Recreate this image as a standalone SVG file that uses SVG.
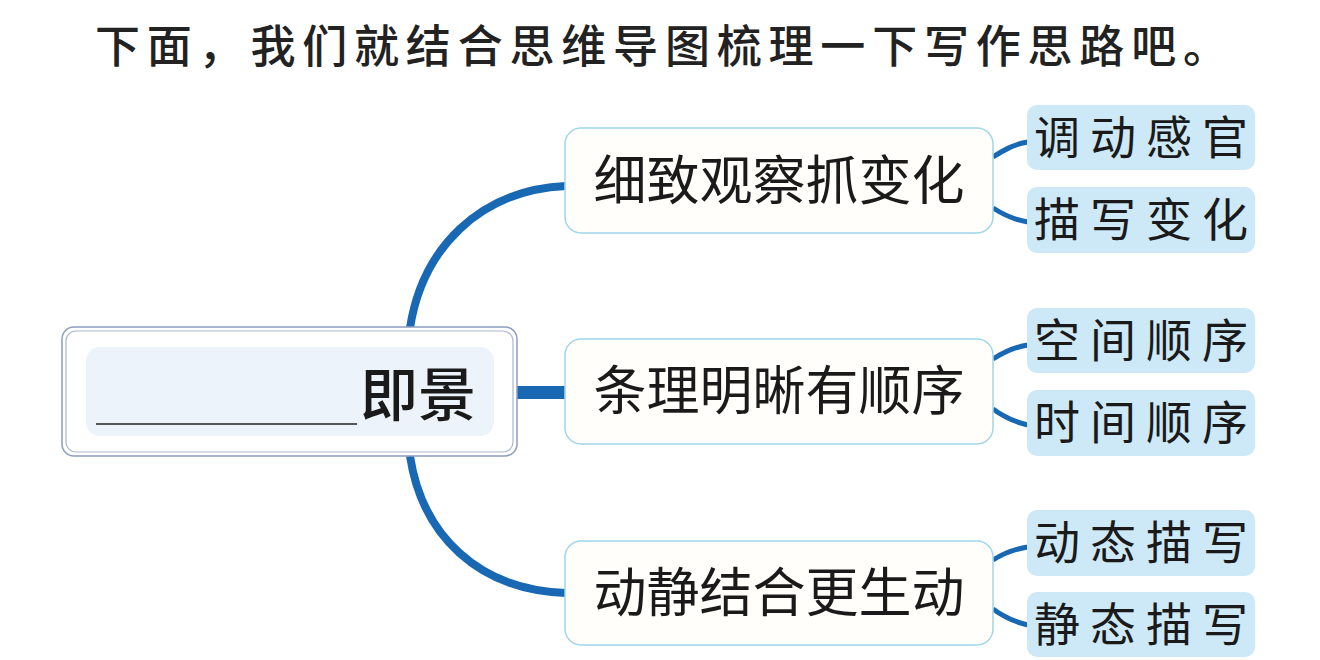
<svg xmlns="http://www.w3.org/2000/svg" width="1320" height="660" viewBox="0 0 1320 660">
<style>
.title{font-family:"Noto Sans CJK SC","Noto Sans",sans-serif;font-size:45px;font-weight:500;fill:#222}
.br{fill:#fffefa;stroke:#9fd6ea;stroke-width:1.5}
.brt{font-family:"Noto Sans CJK SC",sans-serif;font-size:53px;font-weight:400;fill:#1a1a1a;text-anchor:middle}
.leaf{fill:#cde8f6}
.lt{font-family:"Noto Sans CJK SC",sans-serif;font-size:46px;font-weight:400;fill:#1a1a1a}
.con{fill:none;stroke:#1868b3;stroke-linecap:butt}
.main{stroke-width:8}
.sub{stroke-width:5}
</style>
<rect width="1320" height="660" fill="#ffffff"/>
<text class="title" x="95" y="63" textLength="1133" lengthAdjust="spacing">下面，我们就结合思维导图梳理一下写作思路吧。</text>

<g id="connectors">
<path class="con main" d="M410 328 C422 250 478 190 566 186"/>
<path class="con main" d="M410 456 C422 535 478 590 566 593"/>
<rect x="516" y="386" width="50" height="13" fill="#1868b3"/>
<path class="con sub" d="M993 157 C1004 150 1014 144 1028 142"/>
<path class="con sub" d="M993 208 C1004 215 1014 220 1028 222"/>
<path class="con sub" d="M993 359 C1004 352 1014 347 1028 345"/>
<path class="con sub" d="M993 409 C1004 417 1014 422 1028 425"/>
<path class="con sub" d="M993 560 C1004 553 1014 549 1028 547"/>
<path class="con sub" d="M993 609 C1004 617 1014 622 1028 625"/>
</g>

<g id="root">
<rect x="62" y="327" width="455" height="129" rx="12" fill="#ffffff" stroke="#8c9fbd" stroke-width="1.5"/>
<rect x="66" y="331" width="447" height="121" rx="10" fill="none" stroke="#a9b8cf" stroke-width="1.2"/>
<rect x="86" y="347" width="408" height="89" rx="14" fill="#edf3fa"/>
<line x1="96" y1="424" x2="357" y2="424" stroke="#222" stroke-width="1.6"/>
<text x="360" y="416" font-family="Noto Sans CJK SC,sans-serif" font-size="58" font-weight="500" fill="#1a1a1a">即景</text>
</g>

<g id="b1">
<rect class="br" x="565" y="128" width="428" height="105" rx="16"/>
<text class="brt" x="779" y="200">细致观察抓变化</text>
</g>
<g id="b2">
<rect class="br" x="565" y="339" width="428" height="105" rx="16"/>
<text class="brt" x="779" y="410">条理明晰有顺序</text>
</g>
<g id="b3">
<rect class="br" x="565" y="541" width="428" height="104" rx="16"/>
<text class="brt" x="779" y="612">动静结合更生动</text>
</g>

<g id="l1">
<rect class="leaf" x="1027" y="105" width="228" height="65" rx="10"/>
<text class="lt" x="1034" y="154" textLength="214" lengthAdjust="spacing">调动感官</text>
</g>
<g id="l2">
<rect class="leaf" x="1027" y="187" width="228" height="66" rx="10"/>
<text class="lt" x="1034" y="236" textLength="214" lengthAdjust="spacing">描写变化</text>
</g>
<g id="l3">
<rect class="leaf" x="1027" y="308" width="228" height="65" rx="10"/>
<text class="lt" x="1034" y="357" textLength="214" lengthAdjust="spacing">空间顺序</text>
</g>
<g id="l4">
<rect class="leaf" x="1027" y="390" width="228" height="66" rx="10"/>
<text class="lt" x="1034" y="439" textLength="214" lengthAdjust="spacing">时间顺序</text>
</g>
<g id="l5">
<rect class="leaf" x="1027" y="510" width="228" height="66" rx="10"/>
<text class="lt" x="1034" y="559" textLength="214" lengthAdjust="spacing">动态描写</text>
</g>
<g id="l6">
<rect class="leaf" x="1027" y="592" width="228" height="65" rx="10"/>
<text class="lt" x="1034" y="641" textLength="214" lengthAdjust="spacing">静态描写</text>
</g>
</svg>
